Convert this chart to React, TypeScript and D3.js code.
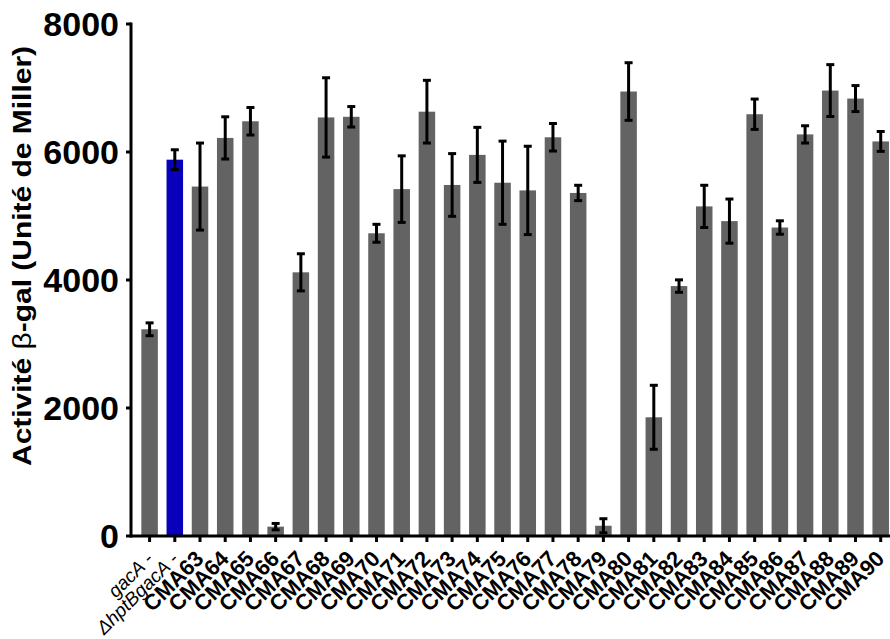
import React from "react";
import * as d3 from "d3";

const categories = [
  "gacA -", "ΔhptBgacA -",
  "CMA63", "CMA64", "CMA65", "CMA66", "CMA67", "CMA68", "CMA69", "CMA70",
  "CMA71", "CMA72", "CMA73", "CMA74", "CMA75", "CMA76", "CMA77", "CMA78",
  "CMA79", "CMA80", "CMA81", "CMA82", "CMA83", "CMA84", "CMA85", "CMA86",
  "CMA87", "CMA88", "CMA89", "CMA90",
];
const italicCategories = ["gacA -", "ΔhptBgacA -"];
const highlighted = ["ΔhptBgacA -"];

const means = [
  3230, 5880,
  5460, 6220, 6480, 146, 4120, 6540, 6550, 4730,
  5420, 6630, 5485, 5955, 5520, 5400, 6230, 5360,
  160, 6945, 1855, 3905, 5150, 4920, 6590, 4820,
  6275, 6960, 6835, 6165,
];
const errors = [
  100, 155,
  680, 330, 215, 50, 290, 620, 160, 140,
  520, 490, 490, 430, 650, 690, 215, 120,
  110, 450, 500, 97, 330, 345, 237, 105,
  135, 405, 203, 155,
];
const yTicks = [0, 2000, 4000, 6000, 8000];
const yTitleMain = "Activité ";
const yTitleBeta = "β";
const yTitleRest = "-gal (Unité de Miller)";

const W = 890;
const H = 639;
const axisX = 131;
const baseY = 536;
const topY = 24;

export default function App() {
  const x = d3
    .scaleBand<string>()
    .domain(categories)
    .range([axisX, axisX + 768.3])
    .paddingInner(0.345)
    .paddingOuter(0.41);
  const y = d3.scaleLinear().domain([0, 8000]).range([baseY, topY]);
  const bw = x.bandwidth();
  const font = "'Liberation Sans', Arial, Helvetica, sans-serif";

  return (
    <svg
      width={W}
      height={H}
      style={{ position: "absolute", left: 0, top: 0, background: "#fff" }}
      fontFamily={font}
    >
      <rect x={0} y={0} width={W} height={H} fill="#fff" />
      {/* bars */}
      {categories.map((c, i) => (
        <rect
          key={c}
          x={x(c)}
          y={y(means[i])}
          width={bw}
          height={baseY - y(means[i])}
          fill={highlighted.includes(c) ? "#0800bb" : "#636363"}
        />
      ))}
      {/* error bars */}
      {categories.map((c, i) => {
        const cx = (x(c) as number) + bw / 2;
        const hi = y(means[i] + errors[i]);
        const lo = y(Math.max(0, means[i] - errors[i]));
        return (
          <g key={"e" + c} stroke="#000" strokeWidth={3}>
            <line x1={cx} x2={cx} y1={hi} y2={lo} />
            <line x1={cx - 4} x2={cx + 4} y1={hi} y2={hi} />
            <line x1={cx - 4} x2={cx + 4} y1={lo} y2={lo} />
          </g>
        );
      })}
      {/* y axis */}
      <line x1={axisX} x2={axisX} y1={topY - 1.5} y2={baseY + 1.5} stroke="#000" strokeWidth={3} />
      {yTicks.map((t) => (
        <g key={t}>
          <line x1={axisX - 5} x2={axisX} y1={y(t)} y2={y(t)} stroke="#000" strokeWidth={3} />
          <text
            x={119}
            y={y(t)}
            dy="0.36em"
            textAnchor="end"
            fontSize={34}
            fontWeight="bold"
            fill="#000"
          >
            {t}
          </text>
        </g>
      ))}
      {/* x axis */}
      <line x1={axisX} x2={W} y1={baseY} y2={baseY} stroke="#000" strokeWidth={3} />
      {categories.map((c) => {
        const cx = (x(c) as number) + bw / 2;
        const it = italicCategories.includes(c);
        const parts = c.split(" ");
        return (
          <g key={"t" + c}>
            <line x1={cx} x2={cx} y1={baseY} y2={baseY + 6} stroke="#000" strokeWidth={3} />
            <text
              transform={`translate(${cx + 5},${560}) rotate(-45)`}
              textAnchor="end"
              fontSize={it ? 19 : 22}
              fontWeight={it ? "normal" : "bold"}
              fill="#000"
            >
              {it ? (
                <>
                  <tspan fontStyle="italic">{parts[0]}</tspan>
                  <tspan> {parts[1]}</tspan>
                </>
              ) : (
                c
              )}
            </text>
          </g>
        );
      })}
      {/* y title */}
      <text
        transform={`translate(31,${256}) rotate(-90)`}
        textAnchor="middle"
        fontSize={25}
        fontWeight="bold"
        fill="#000"
        textLength={420}
        lengthAdjust="spacingAndGlyphs"
      >
        {yTitleMain}
        <tspan fontWeight="normal">{yTitleBeta}</tspan>
        {yTitleRest}
      </text>
    </svg>
  );
}
